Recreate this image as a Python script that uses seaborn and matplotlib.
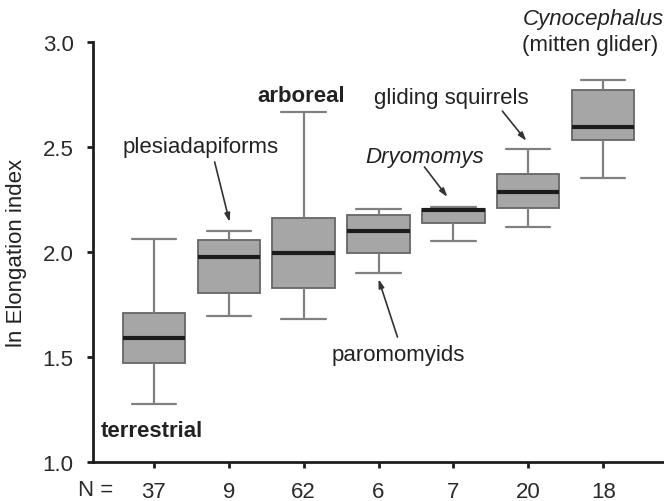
import numpy as np
import pandas as pd
import matplotlib
matplotlib.use("Agg")
import matplotlib.pyplot as plt
import seaborn as sns

# Locomotor groups, sample sizes and five-number summaries of ln elongation index
groups = ["terrestrial", "plesiadapiforms", "arboreal", "paromomyids",
          "Dryomomys", "gliding squirrels", "Cynocephalus"]
n_labels = ["37", "9", "62", "6", "7", "20", "18"]
whisker_low = [1.278, 1.695, 1.681, 1.900, 2.054, 2.120, 2.351]
quartile_1 = [1.473, 1.803, 1.827, 1.995, 2.137, 2.211, 2.533]
medians = [1.590, 1.975, 1.995, 2.101, 2.200, 2.284, 2.597]
quartile_3 = [1.710, 2.059, 2.162, 2.178, 2.205, 2.373, 2.770]
whisker_high = [2.062, 2.101, 2.665, 2.205, 2.213, 2.492, 2.820]

rows = []
for i, g in enumerate(groups):
    for v in (whisker_low[i], quartile_1[i], medians[i], quartile_3[i], whisker_high[i]):
        rows.append({"group": g, "value": v})
df = pd.DataFrame(rows)

sns.set_style("ticks")
plt.rcParams["font.family"] = ["Liberation Sans", "DejaVu Sans"]

fig = plt.figure(figsize=(6.64, 5.02), dpi=100)
ax = fig.add_axes([93 / 664, 39 / 502, 571 / 664, 420 / 502])

sns.boxplot(
    data=df, x="group", y="value", order=groups, ax=ax,
    whis=(0, 100), width=0.83, color="#a6a6a6", linecolor="#666666",
    linewidth=1.3, saturation=1, capwidths=0.59,
    medianprops=dict(color="#1c1c1c", linewidth=3.0),
    whiskerprops=dict(color="#808080", linewidth=1.6),
    capprops=dict(color="#808080", linewidth=1.6),
    boxprops=dict(edgecolor="#666666"),
)

ax.set_xlim(-0.81, 6.81)
ax.set_ylim(1.0, 3.0)
ax.set_yticks([1.0, 1.5, 2.0, 2.5, 3.0])
ax.set_yticklabels(["1.0", "1.5", "2.0", "2.5", "3.0"])
ax.set_xticks(range(len(groups)))
ax.set_xticklabels(n_labels)
ax.set_xlabel("")
ax.set_ylabel("ln Elongation index", fontsize=16, color="#222222")
ax.yaxis.set_label_coords(-0.115, 0.50)

sns.despine(ax=ax)
for s in ("left", "bottom"):
    ax.spines[s].set_linewidth(2.0)
    ax.spines[s].set_color("#1e1e1e")
ax.tick_params(axis="y", labelsize=16, length=4, width=2.0, pad=10,
               colors="#1e1e1e", labelcolor="#2a2a2a")
ax.tick_params(axis="x", labelsize=16, length=4, width=2.0, pad=10,
               colors="#1e1e1e", labelcolor="#2a2a2a")

ax.text(-0.77, 0.871, "N =", fontsize=16, color="#2a2a2a",
        ha="center", va="center", clip_on=False)

txt = dict(fontsize=16, color="#222222", ha="center", va="center")
arrow = dict(arrowstyle="-|>,head_length=0.5,head_width=0.16",
             color="#333333", lw=1.2, shrinkA=0, shrinkB=0)

ax.text(-0.02, 1.152, "terrestrial", fontweight="bold", **txt)
ax.text(1.97, 2.743, "arboreal", fontweight="bold", **txt)

ax.annotate("", xy=(1.013, 2.143), xytext=(0.813, 2.429), arrowprops=arrow)
ax.text(0.62, 2.50, "plesiadapiforms", **txt)

ax.annotate("", xy=(3.00, 1.871), xytext=(3.253, 1.595), arrowprops=arrow)
ax.text(3.26, 1.514, "paromomyids", **txt)

ax.annotate("", xy=(3.92, 2.262), xytext=(3.613, 2.405), arrowprops=arrow)
ax.text(3.61, 2.457, "Dryomomys", fontstyle="italic", **txt)

ax.annotate("", xy=(4.973, 2.529), xytext=(4.653, 2.671), arrowprops=arrow)
ax.text(3.97, 2.738, "gliding squirrels", **txt)

ax.text(4.92, 3.11, "Cynocephalus", fontsize=16, color="#222222",
        fontstyle="italic", ha="left", va="center", clip_on=False)
ax.text(4.92, 2.99, "(mitten glider)", fontsize=16, color="#222222",
        ha="left", va="center", clip_on=False)

fig.savefig("out.png", dpi=100)
